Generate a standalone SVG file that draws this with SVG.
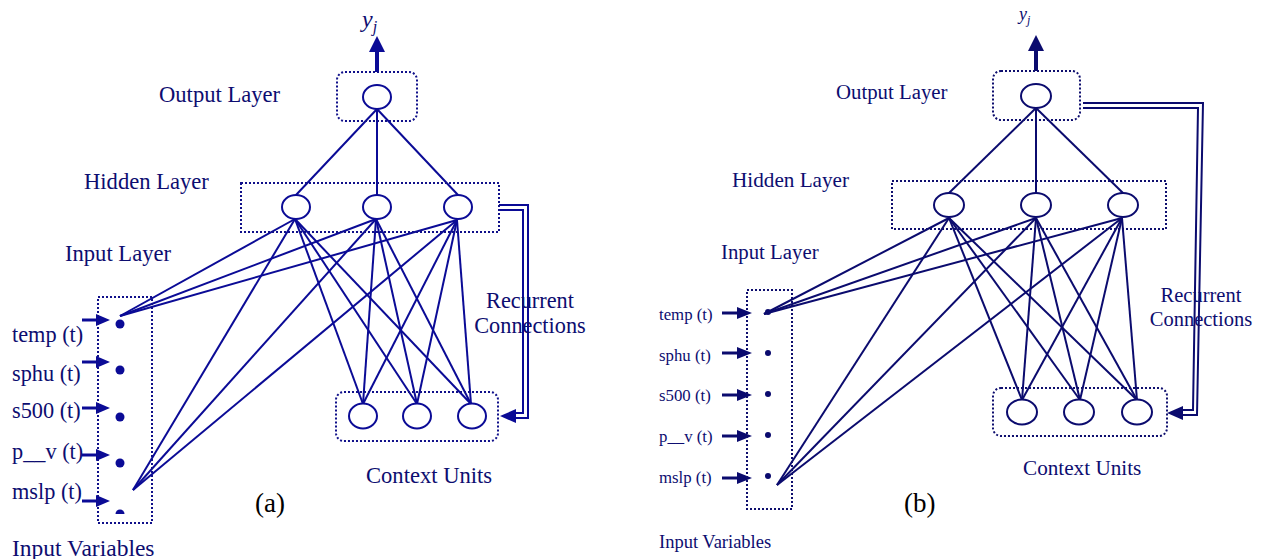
<svg xmlns="http://www.w3.org/2000/svg" width="1264" height="559" viewBox="0 0 1264 559">
<defs>
<style>
.box{fill:none;stroke:#10108a;stroke-width:2;stroke-dasharray:2 2}
.boxb{fill:none;stroke:#0e0e6e;stroke-width:2;stroke-dasharray:2 2}
.nodeA{fill:#fff;stroke:#0b0b96;stroke-width:2}
.nodeB{fill:#fff;stroke:#0b0b6e;stroke-width:2}
.linkA{stroke:#0b0b96;stroke-width:2;fill:none}
.linkB{stroke:#0b0b6e;stroke-width:2;fill:none}
.thickA{stroke:#0b0b96;stroke-width:3;fill:none}
.thickB{stroke:#0b0b6e;stroke-width:3;fill:none}
.headA{fill:#0b0b96}
.headB{fill:#0b0b6e}
.lbl{font-family:"Liberation Serif","Times New Roman",serif;fill:#0d0d70}
.cap{font-family:"Liberation Serif","Times New Roman",serif;fill:#000}
</style>
</defs>

<!-- ===== Diagram (a) ===== -->
<g id="a-connectors">
  <line class="linkA" x1="377" y1="109" x2="296" y2="195"/>
  <line class="linkA" x1="377" y1="109" x2="377" y2="195"/>
  <line class="linkA" x1="377" y1="109" x2="458" y2="195"/>
  <g>
    <line class="linkA" x1="295" y1="219" x2="120" y2="316"/>
    <line class="linkA" x1="295" y1="219" x2="133" y2="490"/>
    <line class="linkA" x1="295" y1="219" x2="363" y2="404"/>
    <line class="linkA" x1="295" y1="219" x2="417" y2="404"/>
    <line class="linkA" x1="295" y1="219" x2="471" y2="404"/>
    <line class="linkA" x1="376" y1="219" x2="120" y2="316"/>
    <line class="linkA" x1="376" y1="219" x2="133" y2="490"/>
    <line class="linkA" x1="376" y1="219" x2="363" y2="404"/>
    <line class="linkA" x1="376" y1="219" x2="417" y2="404"/>
    <line class="linkA" x1="376" y1="219" x2="471" y2="404"/>
    <line class="linkA" x1="457" y1="220" x2="120" y2="316"/>
    <line class="linkA" x1="457" y1="220" x2="133" y2="490"/>
    <line class="linkA" x1="457" y1="220" x2="363" y2="404"/>
    <line class="linkA" x1="457" y1="220" x2="417" y2="404"/>
    <line class="linkA" x1="457" y1="220" x2="471" y2="404"/>
  </g>
  <!-- recurrent -->
  <polyline class="linkA" points="499,205 528,205 528,418 514,418"/>
  <polyline class="linkA" points="499,210 523,210 523,413 514,413"/>
  <polygon class="headA" points="500,416 516,409 516,423"/>
  <!-- output arrow -->
  <line stroke="#0b0b96" stroke-width="4" x1="377" y1="72" x2="377" y2="48"/>
  <polygon class="headA" points="377,36 369,52 385,52"/>
  <!-- input arrows -->
  <g>
    <line class="thickA" x1="82" y1="320" x2="97" y2="320"/><polygon class="headA" points="110,320 96,314 96,326"/>
    <line class="thickA" x1="82" y1="362" x2="97" y2="362"/><polygon class="headA" points="110,362 96,356 96,368"/>
    <line class="thickA" x1="82" y1="408" x2="97" y2="408"/><polygon class="headA" points="110,408 96,402 96,414"/>
    <line class="thickA" x1="82" y1="455" x2="97" y2="455"/><polygon class="headA" points="110,455 96,449 96,461"/>
    <line class="thickA" x1="82" y1="501" x2="97" y2="501"/><polygon class="headA" points="110,501 96,495 96,507"/>
  </g>
</g>

<g id="a-output">
  <rect class="box" x="337" y="72" width="80" height="49" rx="8"/>
  <ellipse class="nodeA" cx="377" cy="97" rx="14" ry="12"/>
  <text class="lbl" x="159" y="102" font-size="22.6">Output Layer</text>
  <text class="lbl" x="362" y="27" font-size="24" font-style="italic">y<tspan font-size="16" dy="5">j</tspan></text>
</g>
<g id="a-hidden">
  <rect class="box" x="241" y="183" width="258" height="49"/>
  <ellipse class="nodeA" cx="296" cy="207" rx="14" ry="12"/>
  <ellipse class="nodeA" cx="377" cy="207" rx="14" ry="12"/>
  <ellipse class="nodeA" cx="458" cy="207" rx="14" ry="12"/>
  <text class="lbl" x="84" y="189" font-size="22.6">Hidden Layer</text>
</g>
<g id="a-context">
  <rect class="box" x="336" y="392" width="162" height="49" rx="8"/>
  <ellipse class="nodeA" cx="363" cy="416" rx="14" ry="12.5"/>
  <ellipse class="nodeA" cx="417" cy="416" rx="14" ry="12.5"/>
  <ellipse class="nodeA" cx="472" cy="416" rx="14" ry="12.5"/>
  <text class="lbl" x="366" y="483" font-size="22.6">Context Units</text>
  <text class="lbl" x="530" y="308" font-size="22.3" text-anchor="middle">Recurrent</text>
  <text class="lbl" x="530" y="333" font-size="22.3" text-anchor="middle">Connections</text>
</g>
<g id="a-input">
  <rect class="box" x="98" y="297" width="54" height="226"/>
  <circle class="headA" cx="120" cy="324" r="4.5"/>
  <circle class="headA" cx="120" cy="370" r="4.5"/>
  <circle class="headA" cx="120" cy="417" r="4.5"/>
  <circle class="headA" cx="120" cy="463" r="4.5"/>
  <path class="headA" d="M115.5,514 A4.5,4.5 0 0 1 124.5,514 Z"/>
  <text class="lbl" x="65" y="261" font-size="22.6">Input Layer</text>
  <text class="lbl" x="12" y="342" font-size="22.3">temp (t)</text>
  <text class="lbl" x="12" y="381" font-size="22.3">sphu (t)</text>
  <text class="lbl" x="12" y="418" font-size="22.3">s500 (t)</text>
  <text class="lbl" x="12" y="459" font-size="22.3">p__v (t)</text>
  <text class="lbl" x="12" y="499" font-size="22.3">mslp (t)</text>
  <text class="lbl" x="12" y="556" font-size="23.5">Input Variables</text>
</g>
<text class="cap" x="255" y="512" font-size="27">(a)</text>

<!-- ===== Diagram (b) ===== -->
<g id="b-connectors">
  <line class="linkB" x1="1036" y1="108" x2="949" y2="193"/>
  <line class="linkB" x1="1036" y1="108" x2="1036" y2="193"/>
  <line class="linkB" x1="1036" y1="108" x2="1123" y2="193"/>
  <g>
    <line class="linkB" x1="949" y1="218" x2="764" y2="314"/>
    <line class="linkB" x1="949" y1="218" x2="777" y2="485"/>
    <line class="linkB" x1="949" y1="218" x2="1022" y2="400"/>
    <line class="linkB" x1="949" y1="218" x2="1080" y2="400"/>
    <line class="linkB" x1="949" y1="218" x2="1137" y2="400"/>
    <line class="linkB" x1="1036" y1="218" x2="764" y2="314"/>
    <line class="linkB" x1="1036" y1="218" x2="777" y2="485"/>
    <line class="linkB" x1="1036" y1="218" x2="1022" y2="400"/>
    <line class="linkB" x1="1036" y1="218" x2="1080" y2="400"/>
    <line class="linkB" x1="1036" y1="218" x2="1137" y2="400"/>
    <line class="linkB" x1="1122" y1="218" x2="764" y2="314"/>
    <line class="linkB" x1="1122" y1="218" x2="777" y2="485"/>
    <line class="linkB" x1="1122" y1="218" x2="1022" y2="400"/>
    <line class="linkB" x1="1122" y1="218" x2="1080" y2="400"/>
    <line class="linkB" x1="1122" y1="218" x2="1137" y2="400"/>
  </g>
  <!-- recurrent -->
  <polyline class="linkB" points="1083,103 1203,103 1197,415 1181,415"/>
  <polyline class="linkB" points="1083,108 1198,108 1193,410 1181,410"/>
  <polygon class="headB" points="1167,413 1183,406 1183,420"/>
  <!-- output arrow -->
  <line stroke="#0b0b6e" stroke-width="4" x1="1036" y1="71" x2="1036" y2="47"/>
  <polygon class="headB" points="1036,35 1028,51 1044,51"/>
  <!-- input arrows -->
  <g>
    <line class="thickB" x1="722" y1="313" x2="738" y2="313"/><polygon class="headB" points="752,313 737,307 737,319"/>
    <line class="thickB" x1="722" y1="353" x2="738" y2="353"/><polygon class="headB" points="752,353 737,347 737,359"/>
    <line class="thickB" x1="722" y1="395" x2="738" y2="395"/><polygon class="headB" points="752,395 737,389 737,401"/>
    <line class="thickB" x1="722" y1="436" x2="738" y2="436"/><polygon class="headB" points="752,436 737,430 737,442"/>
    <line class="thickB" x1="722" y1="478" x2="738" y2="478"/><polygon class="headB" points="752,478 737,472 737,484"/>
  </g>
</g>

<g id="b-output">
  <rect class="boxb" x="993" y="71" width="87" height="49" rx="8"/>
  <ellipse class="nodeB" cx="1036" cy="96" rx="15" ry="12"/>
  <text class="lbl" x="836" y="99" font-size="20.8">Output Layer</text>
  <text class="lbl" x="1019" y="20" font-size="18" font-style="italic">y<tspan font-size="12" dy="4">j</tspan></text>
</g>
<g id="b-hidden">
  <rect class="boxb" x="892" y="181" width="274" height="48"/>
  <ellipse class="nodeB" cx="949" cy="205" rx="15" ry="12"/>
  <ellipse class="nodeB" cx="1036" cy="205" rx="15" ry="12"/>
  <ellipse class="nodeB" cx="1123" cy="205" rx="15" ry="12"/>
  <text class="lbl" x="732" y="187" font-size="21.2">Hidden Layer</text>
</g>
<g id="b-context">
  <rect class="boxb" x="993" y="388" width="174" height="48" rx="8"/>
  <ellipse class="nodeB" cx="1022" cy="412" rx="15" ry="12.5"/>
  <ellipse class="nodeB" cx="1079" cy="412" rx="15" ry="12.5"/>
  <ellipse class="nodeB" cx="1137" cy="412" rx="15" ry="12.5"/>
  <text class="lbl" x="1023" y="475" font-size="21.2">Context Units</text>
  <text class="lbl" x="1201" y="302" font-size="20.5" text-anchor="middle">Recurrent</text>
  <text class="lbl" x="1201" y="326" font-size="20.5" text-anchor="middle">Connections</text>
</g>
<g id="b-input">
  <rect class="boxb" x="747" y="290" width="45" height="219"/>
  <circle class="headB" cx="768" cy="312" r="3"/>
  <circle class="headB" cx="768" cy="353" r="3"/>
  <circle class="headB" cx="768" cy="394" r="3"/>
  <circle class="headB" cx="768" cy="435" r="3"/>
  <circle class="headB" cx="768" cy="476" r="3"/>
  <text class="lbl" x="721" y="259" font-size="20.8">Input Layer</text>
  <text class="lbl" x="659" y="320" font-size="16.8">temp (t)</text>
  <text class="lbl" x="659" y="361" font-size="16.8">sphu (t)</text>
  <text class="lbl" x="659" y="401" font-size="16.8">s500 (t)</text>
  <text class="lbl" x="659" y="442" font-size="16.8">p__v (t)</text>
  <text class="lbl" x="659" y="483" font-size="16.8">mslp (t)</text>
  <text class="lbl" x="659" y="548" font-size="18.5">Input Variables</text>
</g>
<text class="cap" x="904" y="512" font-size="27">(b)</text>
</svg>
